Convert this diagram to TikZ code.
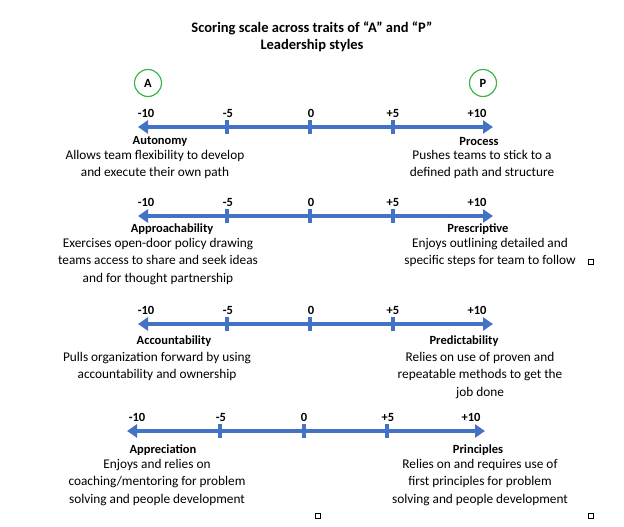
\documentclass[tikz,border=0pt]{standalone}
\usepackage{fontspec}
\setmainfont{Carlito}
\usetikzlibrary{arrows.meta}
\definecolor{axblue}{HTML}{4472C4}
\definecolor{cgreen}{HTML}{3BB54A}
\begin{document}
\begin{tikzpicture}[x=1pt,y=-1pt,
  ax/.style={axblue,line width=4.5pt,{Triangle[length=10pt,width=13pt]}-{Triangle[length=10pt,width=13pt]}},
  tk/.style={axblue,line width=3.5pt},
  num/.style={font=\bfseries\fontsize{12.5}{14}\selectfont,inner sep=0pt},
  hd/.style={font=\bfseries\fontsize{12.5}{14}\selectfont,inner sep=0pt},
  ds/.style={font=\fontsize{13.3}{17.5}\selectfont,align=center,inner sep=0pt,anchor=north},
  circ/.style={circle,draw=cgreen,line width=1.2pt,minimum size=27pt,inner sep=0pt,font=\bfseries\fontsize{12.5}{14}\selectfont},
  sq/.style={draw=black,line width=0.6pt,minimum size=5pt,inner sep=0pt}]
\useasboundingbox (0,0) rectangle (624,527);
\node[font=\bfseries\fontsize{14.5}{17}\selectfont,align=center] (title) at (312,37) {Scoring scale across traits of “A” and “P”\\Leadership styles};
\node[circ] (cA) at (148,83) {A};
\node[circ] (cP) at (483,83) {P};
% Row 1
\coordinate (l1) at (138,127); \coordinate (r1) at (493,127);
\draw[ax] (l1) -- (r1);
\foreach \x/\n in {227/a,310/b,393/c}{\coordinate (t1\n) at (\x,127); \draw[tk] ([yshift=-7]t1\n) -- ([yshift=7]t1\n);}
\node[num] (n1a) at (146,113) {-10};\node[num] (n1b) at (228,113) {-5};\node[num] (n1c) at (311,113) {0};\node[num] (n1d) at (393,113) {+5};\node[num] (n1e) at (477,113) {+10};
\node[hd] (h1a) at (160,141) {Autonomy};
\node[ds] (d1a) at (155,150) {Allows team flexibility to develop\\and execute their own path};
\node[hd] (h1b) at (479,141) {Process};
\node[ds] (d1b) at (482,150) {Pushes teams to stick to a\\defined path and structure};
% Row 2
\coordinate (l2) at (138,216); \coordinate (r2) at (493,216);
\draw[ax] (l2) -- (r2);
\foreach \x/\n in {227/a,310/b,393/c}{\coordinate (t2\n) at (\x,216); \draw[tk] ([yshift=-7]t2\n) -- ([yshift=7]t2\n);}
\node[num] (n2a) at (146,202) {-10};\node[num] (n2b) at (228,202) {-5};\node[num] (n2c) at (311,202) {0};\node[num] (n2d) at (393,202) {+5};\node[num] (n2e) at (477,202) {+10};
\node[hd] (h2a) at (172,229) {Approachability};
\node[ds] (d2a) at (158,238) {Exercises open-door policy drawing\\teams access to share and seek ideas\\and for thought partnership};
\node[hd] (h2b) at (478,229) {Prescriptive};
\node[ds] (d2b) at (490,238) {Enjoys outlining detailed and\\specific steps for team to follow};
% Row 3
\coordinate (l3) at (138,324); \coordinate (r3) at (493,324);
\draw[ax] (l3) -- (r3);
\foreach \x/\n in {227/a,310/b,393/c}{\coordinate (t3\n) at (\x,324); \draw[tk] ([yshift=-7]t3\n) -- ([yshift=7]t3\n);}
\node[num] (n3a) at (146,310) {-10};\node[num] (n3b) at (228,310) {-5};\node[num] (n3c) at (311,310) {0};\node[num] (n3d) at (393,310) {+5};\node[num] (n3e) at (477,310) {+10};
\node[hd] (h3a) at (174,341) {Accountability};
\node[ds] (d3a) at (157,352) {Pulls organization forward by using\\accountability and ownership};
\node[hd] (h3b) at (464,341) {Predictability};
\node[ds] (d3b) at (480,352) {Relies on use of proven and\\repeatable methods to get the\\job done};
% Row 4
\coordinate (l4) at (127,431); \coordinate (r4) at (485,431);
\draw[ax] (l4) -- (r4);
\foreach \x/\n in {220/a,304/b,387/c}{\coordinate (t4\n) at (\x,431); \draw[tk] ([yshift=-7]t4\n) -- ([yshift=7]t4\n);}
\node[num] (n4a) at (137,417) {-10};\node[num] (n4b) at (221,417) {-5};\node[num] (n4c) at (304,417) {0};\node[num] (n4d) at (388,417) {+5};\node[num] (n4e) at (471,417) {+10};
\node[hd] (h4a) at (163,450) {Appreciation};
\node[ds] (d4a) at (157,459) {Enjoys and relies on\\coaching/mentoring for problem\\solving and people development};
\node[hd] (h4b) at (478,450) {Principles};
\node[ds] (d4b) at (480,459) {Relies on and requires use of\\first principles for problem\\solving and people development};
\node[sq] (s1) at (591,262) {};
\node[sq] (s2) at (591,516) {};
\node[sq] (s3) at (318,516) {};
\end{tikzpicture}
\end{document}
